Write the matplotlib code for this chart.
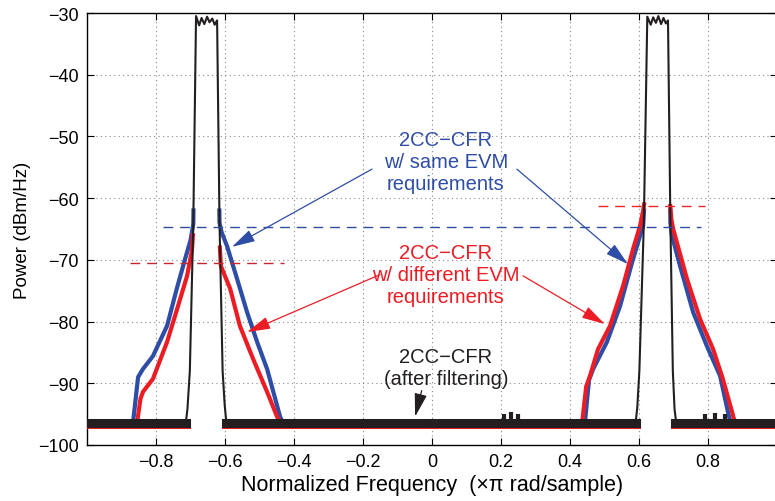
import matplotlib

matplotlib.use('Agg')
import matplotlib.pyplot as plt

plt.rcParams['font.family'] = ['Liberation Sans', 'DejaVu Sans']
nan = float('nan')

# traces (frequency in x pi rad/sample, power in dBm/Hz)
# nan = gap where the trace is hidden behind the carrier
blue_x = [-1.0, -0.867, -0.852, -0.838, -0.809, -0.768, -0.74, -0.716, -0.7, -0.692, -0.6915, nan,
          -0.6165, -0.616, -0.61, -0.594, -0.565, -0.536, -0.507, -0.478, -0.46, -0.44, -0.43,
          0.435, 0.443, 0.455, 0.467, 0.507, 0.545, 0.58, 0.603, 0.612, 0.6145, nan,
          0.6905, 0.691, 0.695, 0.719, 0.757, 0.797, 0.835, 0.858, 0.866, 1.0]
blue_y = [-96.5, -96.5, -89, -87.7, -85.6, -80.7, -74.7, -69.9, -66.8, -64.2, -62, nan,
          -62, -64, -65.5, -67.8, -73.1, -78.5, -83.3, -87.7, -91.4, -95.5, -96.5,
          -96.5, -96.5, -89.5, -87.7, -83.3, -77.5, -70.4, -66.1, -64.5, -62, nan,
          -62, -64, -66, -71, -78.5, -84, -88.8, -94.7, -96.5, -96.5]

red_x = [-1.0, -0.855, -0.845, -0.838, -0.809, -0.768, -0.739, -0.71, -0.696, -0.693, nan,
         -0.615, -0.612, -0.585, -0.557, -0.519, -0.478, -0.45, -0.44,
         0.435, 0.447, 0.458, 0.481, 0.516, 0.554, 0.583, 0.603, 0.612, 0.6148, nan,
         0.6905, 0.694, 0.699, 0.739, 0.777, 0.815, 0.843, 0.87, 0.878, 1.0]
red_y = [-96.4, -96.4, -92.5, -91.4, -89.3, -83.3, -78, -72.6, -68.5, -66, nan,
         -68, -71, -74.7, -80.7, -86, -91.4, -95.3, -96.4,
         -96.4, -90.5, -88.8, -84.5, -80.7, -74.2, -68.2, -64.5, -62, -61, nan,
         -61.3, -63.5, -65, -73.1, -79.6, -84.5, -89.3, -94.7, -96.4, -96.4]

black_x = [-1.0, -0.714, -0.709, -0.702, -0.692, -0.684, -0.675, -0.668, -0.66, -0.652, -0.645,
           -0.637, -0.63, -0.623, -0.616, -0.607, -0.601, -0.596,
           0.59, 0.595, 0.601, 0.614, 0.624, 0.634, 0.641, 0.649, 0.656, 0.664,
           0.671, 0.678, 0.684, 0.691, 0.698, 0.703, 0.708, 1.0]
black_y = [-96.5, -96.5, -94.2, -88, -64, -30.5, -32, -30.8, -31.8, -30.6, -31.5,
           -30.9, -31.9, -31.2, -64, -88, -93.5, -96.5,
           -96.5, -93.9, -88, -64, -30.6, -31.9, -30.7, -31.6, -30.5, -31.8,
           -30.8, -31.7, -31.2, -64, -88, -94.2, -96.5, -96.5]

# noise floor bands and a few taller noise bursts
floor_starts = [-1.0, -0.598, 0.704]
floor_ends = [-0.712, 0.592, 1.0]
floor_level = -96.5
burst_x = [0.21, 0.23, 0.25, 0.79, 0.82, 0.85]
burst_y = [-95.0, -94.6, -94.9, -95.0, -94.8, -95.0]

# dashed reference levels
dash_levels = [-64.7, -70.5, -61.2]
dash_starts = [-0.78, -0.875, 0.48]
dash_ends = [0.78, -0.43, 0.79]
dash_colors = ['#2E4DA0', '#C8262E', '#E8262C']

blue = '#2E4DA6'
red = '#EC1C24'
black = '#231F20'

fig = plt.figure(figsize=(7.75, 5.02), dpi=100)
ax = fig.add_axes([0.1123, 0.1116, 0.8903, 0.8605])

ax.plot(blue_x, blue_y, color=blue, lw=3.0, solid_joinstyle='round', zorder=3)
ax.plot(red_x, red_y, color=red, lw=3.0, solid_joinstyle='round', zorder=4)
for s, e in zip(floor_starts, floor_ends):
    ax.plot([s, e], [floor_level - 0.12, floor_level - 0.12], color=blue, lw=6.5, zorder=3)
    ax.plot([s, e], [floor_level - 0.07, floor_level - 0.07], color=red, lw=6.5, zorder=4)
    ax.plot([s, e], [floor_level, floor_level], color=black, lw=6.5, zorder=5)
ax.vlines(burst_x, floor_level, burst_y, color=black, lw=3, zorder=5)
ax.plot(black_x, black_y, color=black, lw=1.5, zorder=6)

for lvl, s, e, c in zip(dash_levels, dash_starts, dash_ends, dash_colors):
    ax.plot([s, e], [lvl, lvl], color=c, lw=1.0, ls=(0, (7, 5)), zorder=7)

# annotations
fs = 14.5
ax.text(0.04, -54.0, '2CC\u2212CFR\nw/ same EVM\nrequirements', color=blue, fontsize=fs,
        ha='center', va='center', linespacing=1.2, zorder=8)
ax.text(0.04, -72.3, '2CC\u2212CFR\nw/ different EVM\nrequirements', color=red, fontsize=fs,
        ha='center', va='center', linespacing=1.2, zorder=8)
ax.text(0.04, -87.5, '2CC\u2212CFR\n(after filtering)', color=black, fontsize=fs,
        ha='center', va='center', linespacing=1.2, zorder=8)

arrow_kw = dict(arrowstyle='-|>,head_length=1.3,head_width=0.35', lw=0.9, mutation_scale=11,
                shrinkA=0, shrinkB=0)
ax.annotate('', xy=(-0.58, -67.9), xytext=(-0.174, -55.3),
            arrowprops=dict(color=blue, **arrow_kw), zorder=9)
ax.annotate('', xy=(0.568, -70.7), xytext=(0.246, -55.3),
            arrowprops=dict(color=blue, **arrow_kw), zorder=9)
ax.annotate('', xy=(-0.536, -81.7), xytext=(-0.151, -72.4),
            arrowprops=dict(color=red, **arrow_kw), zorder=9)
ax.annotate('', xy=(0.501, -80.4), xytext=(0.264, -72.6),
            arrowprops=dict(color=red, **arrow_kw), zorder=9)
ax.annotate('', xy=(-0.049, -95.4), xytext=(-0.03, -91.2),
            arrowprops=dict(color=black, **arrow_kw), zorder=9)

ax.set_xlim(-1, 1)
ax.set_ylim(-100, -30)
ax.set_xticks([-0.8, -0.6, -0.4, -0.2, 0, 0.2, 0.4, 0.6, 0.8])
ax.set_xticklabels(['\u22120.8', '\u22120.6', '\u22120.4', '\u22120.2', '0', '0.2', '0.4', '0.6', '0.8'])
ax.set_yticks([-100, -90, -80, -70, -60, -50, -40, -30])
ax.set_yticklabels(['\u2212100', '\u221290', '\u221280', '\u221270', '\u221260', '\u221250', '\u221240', '\u221230'])
ax.tick_params(direction='in', length=5, width=0.8, labelsize=13, top=True, right=True, pad=6)
ax.grid(True, color='#888888', ls=(0, (1, 3)), lw=0.8)
for sp in ax.spines.values():
    sp.set_linewidth(1.0)

ax.set_xlabel('Normalized Frequency  (\u00d7\u03c0 rad/sample)', fontsize=15.5, labelpad=3)
ax.set_ylabel('Power (dBm/Hz)', fontsize=13.5, labelpad=5)

fig.savefig('out.png', dpi=100)
